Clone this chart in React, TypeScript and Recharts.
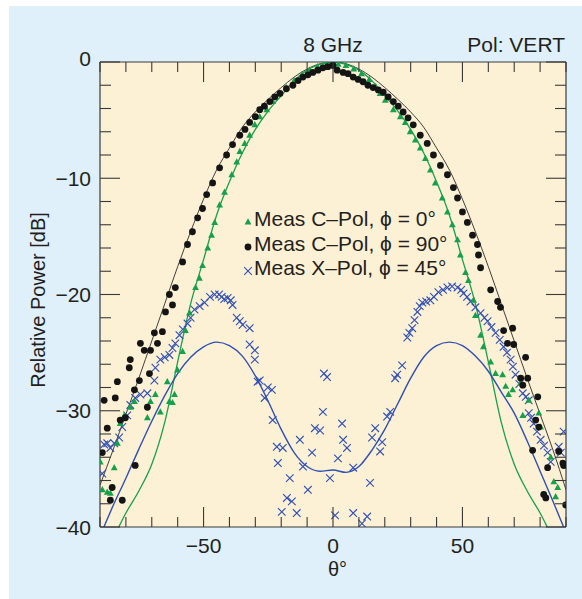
import React from 'react';
import { ComposedChart, XAxis, YAxis, Line, Scatter, Legend, CartesianGrid } from 'recharts';

const GREEN = '#17a04c';
const BLUE = '#2f4fb6';
const BLACK = '#141414';
const TEXT = '#231f20';
const FONT = '"Liberation Sans", Arial, Helvetica, sans-serif';

const xTicks = [-90, -80, -70, -60, -50, -40, -30, -20, -10, 0, 10, 20, 30, 40, 50, 60, 70, 80, 90];
const xLabeled = [-50, 0, 50];
const yTicks = [-40, -38, -36, -34, -32, -30, -28, -26, -24, -22, -20, -18, -16, -14, -12, -10, -8, -6, -4, -2, 0];
const yLabeled = [0, -10, -20, -30, -40];

const theoryAngles = [-90, -85, -80, -75, -70, -65, -60, -55, -50, -45, -40, -35, -30, -25, -20, -15, -10, -5, 0, 5, 10, 15, 20, 25, 30, 35, 40, 45, 50, 55, 60, 65, 70, 75, 80, 85, 90];
const theoryCoPol0 = [-43, -41, -38.8, -36.9, -34.6, -31, -25.8, -20.8, -17, -13.2, -10.3, -7.8, -5.8, -4.2, -2.9, -1.6, -0.7, -0.2, 0, -0.2, -0.7, -1.6, -2.9, -4.2, -5.8, -7.8, -10.3, -13.2, -17, -20.8, -25.8, -31, -34.6, -36.9, -38.8, -41, -43];
const theoryCoPol90 = [-36.4, -33.4, -30.3, -27.2, -24, -20.8, -17.6, -14.6, -11.8, -9.3, -7.4, -5.6, -4.3, -3.2, -2.2, -1.3, -0.6, -0.15, 0, -0.15, -0.6, -1.3, -2.2, -3.2, -4.3, -5.6, -7.4, -9.3, -11.8, -14.6, -17.6, -20.8, -24, -27.2, -30.3, -33.4, -36.8];
const theoryXPol45 = [-40.8, -38.2, -35.8, -33.3, -30.9, -28.7, -26.8, -25.4, -24.5, -24.1, -24.4, -25.3, -27, -29.2, -31.6, -33.6, -34.8, -35.2, -35.1, -35.3, -34.8, -33.4, -31.6, -29.4, -27.2, -25.4, -24.4, -24.1, -24.4, -25.3, -26.6, -28.4, -30.2, -32.6, -35.2, -37.8, -40.5];

const measCoPol0: [number, number][] = [
  [-89.9, -34.4], [-89.1, -36.8], [-87.2, -37.0], [-86, -37.1], [-84.5, -34.9], [-83.3, -32.8], [-82.2, -31.1], [-80.6, -30.4],
  [-78.3, -29.7], [-76.7, -29.2], [-71.7, -30.6], [-70.5, -29.2], [-68.6, -28.6], [-66.7, -30.1], [-64, -27.5], [-63.2, -29.2],
  [-62, -29.3], [-61.2, -28.6], [-60.1, -26.5], [-58.1, -24.9], [-57, -23.1], [-55.4, -21.6], [-53.1, -19.4], [-51.6, -18.6],
  [-50.4, -17.5], [-48.4, -16.0], [-46.9, -14.9], [-45.7, -13.8], [-43.8, -12.3], [-41.9, -11.2], [-39.1, -9.7], [-37.2, -8.6],
  [-36, -7.7], [-34.1, -7.0], [-32.2, -6.3], [-30.2, -5.4], [-28.3, -4.7], [-25.6, -4.1], [-23.3, -3.4], [-20.5, -2.7],
  [-18, -2.2], [-15, -1.6], [-12, -1.1], [-9, -0.7], [-6, -0.4], [-3.1, 0], [-1.2, -0.3],
  [2, -0.2], [5, -0.3], [8, -0.6], [11, -1.0], [14, -1.5], [16.5, -2.1], [18.2, -2.7], [20.2, -3.3], [23.3, -4.1], [26, -4.7],
  [27.9, -5.2], [29.8, -6.0], [31.8, -6.7], [33.7, -7.4], [35.7, -8.3], [37.6, -9.3], [39.5, -10.4], [42.2, -11.7], [44.2, -12.9],
  [46.1, -14.0], [48.1, -15.3], [49.2, -16.6], [51.2, -18.1], [52.3, -18.8], [54.3, -20.5], [55, -21.8], [57, -23.5], [58.1, -24.5],
  [60.9, -25.8], [62.8, -26.8], [65.5, -26.9], [66.7, -27.9], [67.8, -28.6], [69.4, -28.2], [72.5, -27.6], [73.3, -30.4],
  [75.6, -29.1], [79.5, -30.2], [80.2, -31.4], [84.1, -34.0], [85.3, -36.1], [86.8, -36.6], [86, -37.4], [89.9, -34.8],
];

const measCoPol90: [number, number][] = [
  [-89.1, -33.6], [-88.4, -29.1], [-87.2, -31.5], [-86, -37.7], [-85.3, -36.6], [-84.1, -28.9], [-83.3, -27.5], [-82.2, -30.8],
  [-81.4, -37.7], [-80.2, -30.6], [-78.7, -26.3], [-78.3, -25.6], [-76.7, -28.2], [-76.4, -34.7], [-74.8, -27.4], [-74.4, -24.2],
  [-72.9, -24.8], [-71.7, -29.7], [-70.9, -26.8], [-70.5, -24.8], [-69, -23.3], [-67.8, -24.2], [-65.9, -23.2], [-64.7, -21.5],
  [-63.2, -20.0], [-62, -20.9], [-60.9, -19.4], [-58.1, -17.2], [-56.2, -15.7], [-54.3, -14.6], [-52.3, -13.4], [-50.4, -12.6],
  [-48.8, -11.4], [-46.5, -10.4], [-43.8, -9.1], [-41.1, -8.0], [-38.8, -7.1], [-36, -6.3], [-34, -5.8], [-32.2, -5.2], [-30, -4.7],
  [-28.3, -4.1], [-26.5, -3.8], [-24.4, -3.4], [-22.5, -3.0], [-20.5, -2.7], [-18, -2.3], [-15.5, -2.0], [-13.5, -1.6],
  [-11.6, -1.3], [-9.7, -1.1], [-7.8, -0.9], [-5.8, -0.7], [-3.9, -0.5], [-2, -0.4], [0, -0.3],
  [1.6, -0.7], [3.9, -0.9], [5.8, -1.0], [7.8, -1.3], [9.7, -1.5], [11.6, -1.7], [13.5, -2.0], [15.5, -2.2], [17.5, -2.4],
  [19.4, -2.6], [21.3, -3.0], [23.3, -3.4], [25.2, -3.8], [27.1, -4.3], [29, -4.8], [31, -5.4], [33.7, -6.3], [36.4, -7.0],
  [38.8, -8.0], [41.5, -8.9], [44.2, -9.7], [46.5, -10.8], [48.1, -11.7], [50, -12.9], [51.9, -13.8], [53.9, -14.9], [55.8, -15.7],
  [56.2, -16.6], [57, -17.7], [60.9, -19.6], [63.6, -20.6], [64.7, -21.1], [65.9, -23.1], [67.4, -24.2], [69.4, -22.9],
  [69.8, -24.3], [72.5, -27.2], [73.3, -27.8], [74.4, -25.4], [75.2, -27.2], [77.1, -33.4], [78.3, -30.8], [79.1, -28.8],
  [79.5, -31.4], [81.4, -37.2], [82.2, -37.5], [82.9, -34.9], [87.2, -33.5], [88.8, -34.5], [89.1, -34.7], [89.9, -38.1],
];

const measXPol45: [number, number][] = [
  [-89.1, -35.4], [-88.4, -32.9], [-87.2, -32.8], [-86, -33.2], [-84.5, -32.8], [-82.6, -32.3], [-81.4, -31.4], [-79.5, -30.4],
  [-78.3, -29.5], [-76.4, -28.9], [-74.4, -28.6], [-71.7, -28.5], [-69, -27.4], [-68.6, -26.3], [-66.7, -25.6], [-65, -25.4],
  [-63.2, -25.2], [-62, -24.6], [-60.9, -24.2], [-59.3, -23.5], [-58, -23.0], [-56.2, -22.5], [-55, -22.0], [-53.5, -21.3],
  [-51.5, -21.0], [-49.6, -20.7], [-47.5, -20.2], [-45.7, -20.0], [-44, -20.0], [-43, -20.2], [-42, -20.4], [-40.7, -20.3],
  [-39.5, -20.5], [-38.8, -20.9], [-37.2, -22.0], [-36, -22.3], [-34.9, -22.6], [-32.2, -22.9], [-32.2, -24.3], [-30.2, -24.8],
  [-30.2, -25.6], [-29.1, -27.5], [-28.3, -27.4], [-26.4, -28.9], [-25.2, -28.0], [-23.6, -28.2], [-23.3, -30.8], [-21.7, -33.1],
  [-21.3, -34.5], [-19.8, -38.7], [-19.4, -33.2], [-17.8, -37.5], [-16.7, -35.8], [-15.9, -37.8], [-14, -38.8], [-12.8, -32.5],
  [-11.6, -34.8], [-9.7, -36.8], [-8.1, -33.6], [-7, -31.5], [-5, -31.7], [-3.9, -30.1], [-3.5, -26.8], [-2.3, -27.1], [-1.2, -35.8],
  [0.8, -39], [1.9, -34.1], [3.5, -31.1], [3.9, -32.5], [5.4, -33.2], [7.8, -34.9], [7.8, -38.8], [11.2, -39.7], [13.2, -39.1],
  [14.3, -36.2], [15.1, -32.3], [16.3, -31.5], [18.2, -33.5], [19, -32.7], [20.9, -30.5], [22.1, -30.1], [24, -27.2], [24.8, -26.9],
  [26.7, -26.1], [28.7, -23.7], [29.5, -23.3], [30.6, -22.9], [31.5, -22.2], [32.6, -21.5], [33.5, -21.0], [34.5, -20.7],
  [36, -20.6], [37.6, -20.5], [39, -20.2], [40.7, -19.8], [42.5, -19.6], [44.2, -19.4], [46, -19.3], [48.1, -19.4], [49.5, -19.6],
  [50.4, -19.9], [51.8, -20.2], [53.1, -20.6], [55, -21.1], [57, -21.6], [58.5, -22.0], [59.7, -22.3], [61.2, -22.8], [62.8, -23.3],
  [64.4, -23.9], [65.9, -24.5], [67.2, -25.0], [68.6, -25.6], [69.5, -26.2], [70.5, -26.9], [72, -27.7], [73.3, -28.5],
  [74.5, -28.8], [75.6, -29.1], [75.6, -30.2], [76.5, -30.6], [77.5, -31.1], [78.8, -31.8], [80.2, -32.5], [81.5, -33.0],
  [82.9, -33.6], [84.1, -34.4], [87.2, -33.1], [88, -33.6], [89.1, -31.8],
];

const legendLabels = ['Meas C\u2013Pol, \u03d5 = 0\u00b0', 'Meas C\u2013Pol, \u03d5 = 90\u00b0', 'Meas X\u2013Pol, \u03d5 = 45\u00b0'];

const toPoints = (xs: number[], ys: number[]) => xs.map((x, i) => ({ x, y: ys[i] }));
const pairs = (arr: [number, number][]) => arr.map(([x, y]) => ({ x, y }));

const fmt = (v: number) => (v < 0 ? '\u2212' + Math.abs(v) : String(v));

const Tri = (p: any) => {
  const { cx, cy } = p;
  if (cx == null || cy == null) return null;
  return <path d={`M${cx},${cy - 3.7}L${cx + 3.4},${cy + 2.5}L${cx - 3.4},${cy + 2.5}Z`} fill={GREEN} />;
};
const Dot = (p: any) => {
  const { cx, cy } = p;
  if (cx == null || cy == null) return null;
  return <circle cx={cx} cy={cy} r={3.4} fill={BLACK} />;
};
const Cross = (p: any) => {
  const { cx, cy } = p;
  if (cx == null || cy == null) return null;
  const s = 3.8;
  return (
    <path d={`M${cx - s},${cy - s}L${cx + s},${cy + s}M${cx - s},${cy + s}L${cx + s},${cy - s}`} stroke={BLUE} strokeWidth={1.1} fill="none" />
  );
};

const TICK = '#3a3a3a';

const BottomTick = (p: any) => {
  const { x, y, payload } = p;
  const v = payload.value;
  const major = xLabeled.includes(v);
  return (
    <g>
      <line x1={x} x2={x} y1={y} y2={y - (major ? 20 : 10)} stroke={TICK} strokeWidth={1.1} />
      {major && (
        <text x={x} y={y + 26} textAnchor="middle" fontSize={21} fontFamily={FONT} fill={TEXT}>
          {fmt(v)}
        </text>
      )}
    </g>
  );
};
const TopTick = (p: any) => {
  const { x, y, payload } = p;
  const major = xLabeled.includes(payload.value);
  return <line x1={x} x2={x} y1={y} y2={y + (major ? 20 : 10)} stroke={TICK} strokeWidth={1.1} />;
};
const LeftTick = (p: any) => {
  const { x, y, payload } = p;
  const v = payload.value;
  const major = yLabeled.includes(v);
  return (
    <g>
      <line x1={x} x2={x + (major ? 20 : 11)} y1={y} y2={y} stroke={TICK} strokeWidth={1.1} />
      {major && (
        <text x={x - 9} y={y + (v === 0 ? -4 : 0)} dy="0.36em" textAnchor="end" fontSize={21} fontFamily={FONT} fill={TEXT}>
          {fmt(v)}
        </text>
      )}
    </g>
  );
};
const RightTick = (p: any) => {
  const { x, y, payload } = p;
  const major = yLabeled.includes(payload.value);
  return <line x1={x} x2={x - (major ? 20 : 11)} y1={y} y2={y} stroke={TICK} strokeWidth={1.1} />;
};

const markers = [Tri, Dot, Cross];

const LegendBox = () => (
  <div style={{ fontFamily: FONT, fontSize: 21, color: TEXT, lineHeight: '24px' }}>
    {legendLabels.map((label, i) => {
      const M = markers[i];
      return (
        <div key={label} style={{ display: 'flex', alignItems: 'center', height: 24.5 }}>
          <svg width={11} height={12} style={{ marginTop: 4 }}>
            <M cx={5} cy={7} />
          </svg>
          <span>{label}</span>
        </div>
      );
    })}
  </div>
);

const axisLine = { stroke: TICK, strokeWidth: 1.2 };

export default function App() {
  return (
    <div style={{ position: 'absolute', left: 0, top: 0, width: 582, height: 599, background: '#ffffff', overflow: 'hidden' }}>
      <div style={{ position: 'absolute', left: 9, top: 6, width: 573, height: 593, background: '#dff0fa' }} />
      <div style={{ position: 'absolute', left: 0, top: 0 }}>
        <ComposedChart width={582} height={599} margin={{ top: 61, right: 15, bottom: 71, left: 99 }}>
          <CartesianGrid fill="#fcf1d4" stroke="none" horizontal={false} vertical={false} />
          <XAxis xAxisId={0} type="number" dataKey="x" domain={[-90, 90]} allowDataOverflow ticks={xTicks} interval={0}
            height={1} tickSize={0} tickMargin={0} tick={<BottomTick />} axisLine={axisLine} tickLine={false} />
          <XAxis xAxisId="top" orientation="top" type="number" dataKey="x" domain={[-90, 90]} allowDataOverflow ticks={xTicks} interval={0}
            height={1} tickSize={0} tickMargin={0} tick={<TopTick />} axisLine={axisLine} tickLine={false} />
          <YAxis yAxisId={0} type="number" dataKey="y" domain={[-40, 0]} allowDataOverflow ticks={yTicks} interval={0}
            width={1} tickSize={0} tickMargin={0} tick={<LeftTick />} axisLine={axisLine} tickLine={false} />
          <YAxis yAxisId="right" orientation="right" type="number" dataKey="y" domain={[-40, 0]} allowDataOverflow ticks={yTicks} interval={0}
            width={1} tickSize={0} tickMargin={0} tick={<RightTick />} axisLine={axisLine} tickLine={false} />

          <Line data={toPoints(theoryAngles, theoryCoPol90)} dataKey="y" type="monotone" stroke="#2b2b2b" strokeWidth={0.9} dot={false} isAnimationActive={false} legendType="none" />
          <Line data={toPoints(theoryAngles, theoryCoPol0)} dataKey="y" type="monotone" stroke={GREEN} strokeWidth={1.3} dot={false} isAnimationActive={false} legendType="none" />
          <Line data={toPoints(theoryAngles, theoryXPol45)} dataKey="y" type="monotone" stroke={BLUE} strokeWidth={1.4} dot={false} isAnimationActive={false} legendType="none" />

          <Scatter data={pairs(measXPol45)} dataKey="y" shape={Cross} isAnimationActive={false} />
          <Scatter data={pairs(measCoPol0)} dataKey="y" shape={Tri} isAnimationActive={false} />
          <Scatter data={pairs(measCoPol90)} dataKey="y" shape={Dot} isAnimationActive={false} />

          <Legend layout="vertical" verticalAlign="middle" align="center" content={<LegendBox />}
            wrapperStyle={{ position: 'absolute', left: 243, top: 207, width: 260, height: 75 }} />

          <text x={333} y={52} textAnchor="middle" fontSize={21} fontFamily={FONT} fill={TEXT}>8 GHz</text>
          <text x={565} y={52} textAnchor="end" fontSize={21} fontFamily={FONT} fill={TEXT}>Pol: VERT</text>
          <text x={328} y={576} textAnchor="start" fontSize={20} fontFamily={FONT} fill={TEXT}>{'\u03b8\u00b0'}</text>
          <text x={45} y={300} textAnchor="middle" fontSize={20} fontFamily={FONT} fill={TEXT} transform="rotate(-90, 45, 300)">Relative Power [dB]</text>
        </ComposedChart>
      </div>
    </div>
  );
}
